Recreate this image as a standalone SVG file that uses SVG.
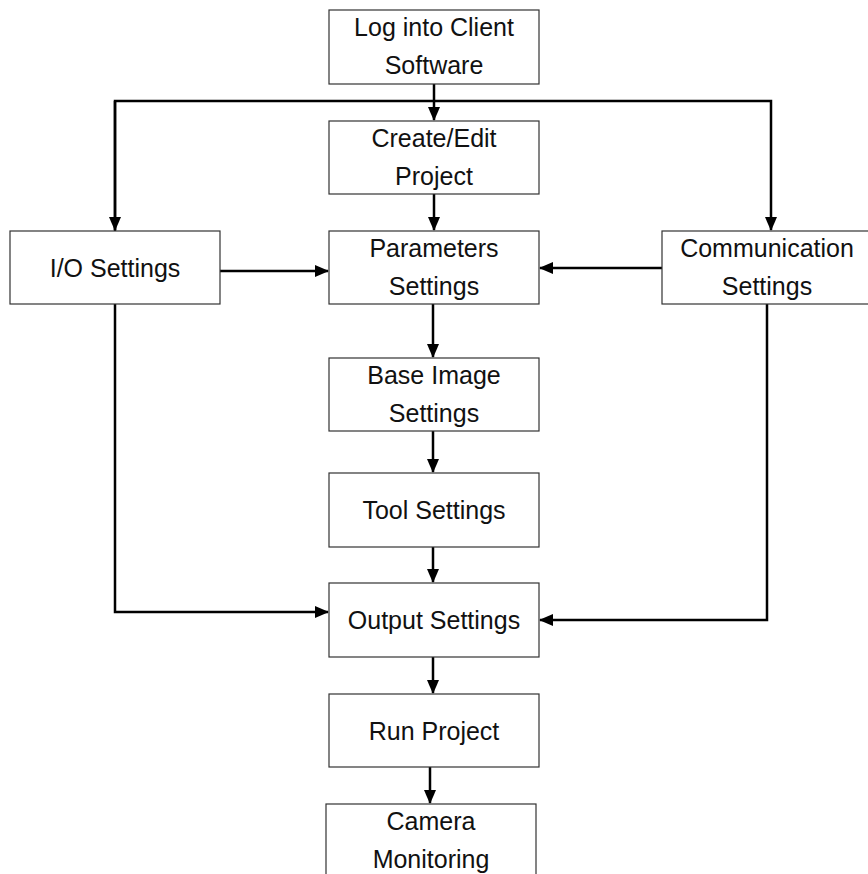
<svg xmlns="http://www.w3.org/2000/svg" width="868" height="874" viewBox="0 0 868 874">
<style>
.box{fill:#fff;stroke:#333;stroke-width:1.2}
.t{font-family:"Liberation Sans",Arial,sans-serif;font-size:25px;fill:#111;text-anchor:middle}
.c{fill:none;stroke:#000;stroke-width:2.5}
</style>
<defs>
<marker id="ah" markerUnits="userSpaceOnUse" markerWidth="14" markerHeight="12" refX="13" refY="6" orient="auto">
<path d="M0,0 L14,6 L0,12 Z" fill="#000"/>
</marker>
</defs>
<rect width="868" height="874" fill="#fff"/>
<g id="connectors">
<path class="c" d="M434,84 V120" marker-end="url(#ah)"/>
<path class="c" d="M115,231 V101 H771 V230" marker-end="url(#ah)"/>
<path class="c" d="M115,101 V230" marker-end="url(#ah)"/>
<path class="c" d="M434,194 V230" marker-end="url(#ah)"/>
<path class="c" d="M220,271 H328" marker-end="url(#ah)"/>
<path class="c" d="M662,268 H540" marker-end="url(#ah)"/>
<path class="c" d="M433,304 V357" marker-end="url(#ah)"/>
<path class="c" d="M433,431 V472" marker-end="url(#ah)"/>
<path class="c" d="M433,547 V582" marker-end="url(#ah)"/>
<path class="c" d="M115,304 V612 H328" marker-end="url(#ah)"/>
<path class="c" d="M767,304 V620 H540" marker-end="url(#ah)"/>
<path class="c" d="M433,657 V693" marker-end="url(#ah)"/>
<path class="c" d="M430,767 V803" marker-end="url(#ah)"/>
</g>
<g id="login"><rect class="box" x="329" y="10" width="210" height="74"/><text class="t" x="434" y="36">Log into Client</text><text class="t" x="434" y="74">Software</text></g>
<g id="create"><rect class="box" x="329" y="121" width="210" height="73"/><text class="t" x="434" y="147">Create/Edit</text><text class="t" x="434" y="185">Project</text></g>
<g id="params"><rect class="box" x="329" y="231" width="210" height="73"/><text class="t" x="434" y="257">Parameters</text><text class="t" x="434" y="295">Settings</text></g>
<g id="io"><rect class="box" x="10" y="231" width="210" height="73"/><text class="t" x="115" y="277">I/O Settings</text></g>
<g id="comm"><rect class="box" x="662" y="231" width="211" height="73"/><text class="t" x="767" y="257">Communication</text><text class="t" x="767" y="295">Settings</text></g>
<g id="base"><rect class="box" x="329" y="358" width="210" height="73"/><text class="t" x="434" y="384">Base Image</text><text class="t" x="434" y="422">Settings</text></g>
<g id="tool"><rect class="box" x="329" y="473" width="210" height="74"/><text class="t" x="434" y="519">Tool Settings</text></g>
<g id="output"><rect class="box" x="329" y="583" width="210" height="74"/><text class="t" x="434" y="629">Output Settings</text></g>
<g id="run"><rect class="box" x="329" y="694" width="210" height="73"/><text class="t" x="434" y="740">Run Project</text></g>
<g id="camera"><rect class="box" x="326" y="804" width="210" height="74"/><text class="t" x="431" y="830">Camera</text><text class="t" x="431" y="868">Monitoring</text></g>
</svg>
